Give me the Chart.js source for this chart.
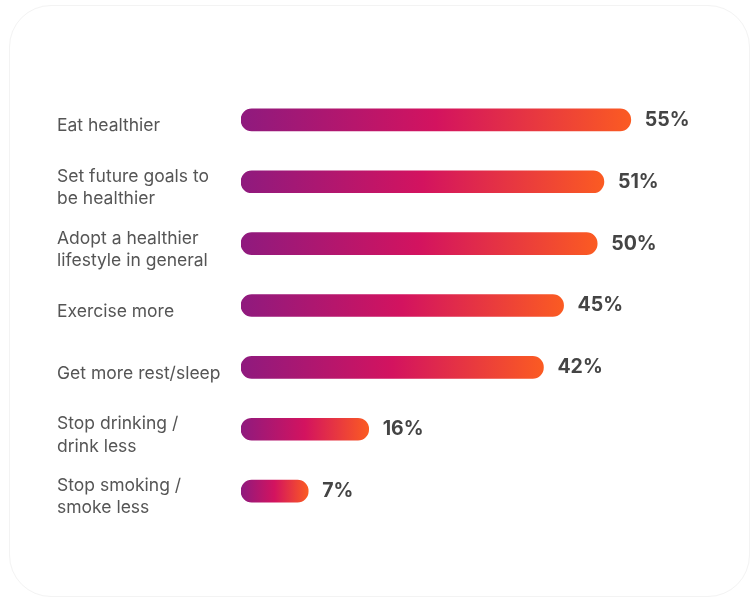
<!DOCTYPE html>
<html lang="en">
<head>
  <meta charset="UTF-8">
  <title>Health goals</title>
  <script src="https://cdn.jsdelivr.net/npm/chart.js"></script>
  <style>
    html, body { margin: 0; padding: 0; background: #fff; }
    #card {
      position: absolute;
      left: 9px; top: 5px;
      width: 739px; height: 590px;
      border: 1.5px solid #f3f3f3;
      border-radius: 42px;
      background: #fff;
    }
    #wrap { position: absolute; left: 0; top: 0; width: 755px; height: 599px; }
  </style>
</head>
<body>
  <div id="card"></div>
  <div id="wrap"><canvas id="grafico" width="755" height="599"></canvas></div>
  <script>
    // dados
    const categorias = [
      ["Eat healthier"],
      ["Set future goals to", "be healthier"],
      ["Adopt a healthier", "lifestyle in general"],
      ["Exercise more"],
      ["Get more rest/sleep"],
      ["Stop drinking /", "drink less"],
      ["Stop smoking /", "smoke less"]
    ];
    const valores = [55, 51, 50, 45, 42, 16, 7];

    // gradiente roxo -> magenta -> laranja, do início ao fim de cada barra
    function gradienteBarra(context) {
      const chart = context.chart;
      const esc = chart.scales.x;
      if (!esc || !chart.chartArea || context.parsed == null) return "#d4145f";
      const x0 = esc.getPixelForValue(-3);
      const x1 = esc.getPixelForValue(context.parsed.x);
      const g = chart.ctx.createLinearGradient(x0, 0, Math.max(x1, x0 + 1), 0);
      g.addColorStop(0, "#8f1a7e");
      g.addColorStop(0.5, "#d3135f");
      g.addColorStop(1, "#fb5b22");
      return g;
    }

    // rótulos de valor na ponta das barras
    const rotulosValor = {
      id: "rotulosValor",
      afterDatasetsDraw(chart) {
        const ctx = chart.ctx;
        const meta = chart.getDatasetMeta(0);
        ctx.save();
        ctx.font = "bold 19.5px Inter, 'Open Sans', sans-serif";
        ctx.fillStyle = "#444";
        ctx.textBaseline = "middle";
        ctx.textAlign = "left";
        meta.data.forEach((bar, i) => {
          ctx.fillText(valores[i] + "%", bar.x + 14, bar.y);
        });
        ctx.restore();
      }
    };

    new Chart(document.getElementById("grafico"), {
      type: "bar",
      data: {
        labels: categorias,
        datasets: [{
          data: valores,
          base: -3,
          backgroundColor: gradienteBarra,
          borderRadius: 11,
          borderSkipped: false,
          barThickness: 22
        }]
      },
      plugins: [rotulosValor],
      options: {
        indexAxis: "y",
        responsive: false,
        animation: false,
        layout: { padding: { left: 57, right: 57, top: 89, bottom: 77 } },
        scales: {
          x: { display: false, min: -3, max: 65 },
          y: {
            grid: { display: false },
            border: { display: false },
            afterFit(scale) { scale.width = 184; },
            ticks: {
              crossAlign: "far",
              labelOffset: 6,
              color: "#555",
              font: { family: "Inter, 'Open Sans', sans-serif", size: 17.5, lineHeight: 1.26 }
            }
          }
        },
        plugins: {
          legend: { display: false },
          tooltip: { enabled: false }
        }
      }
    });
  </script>
</body>
</html>
